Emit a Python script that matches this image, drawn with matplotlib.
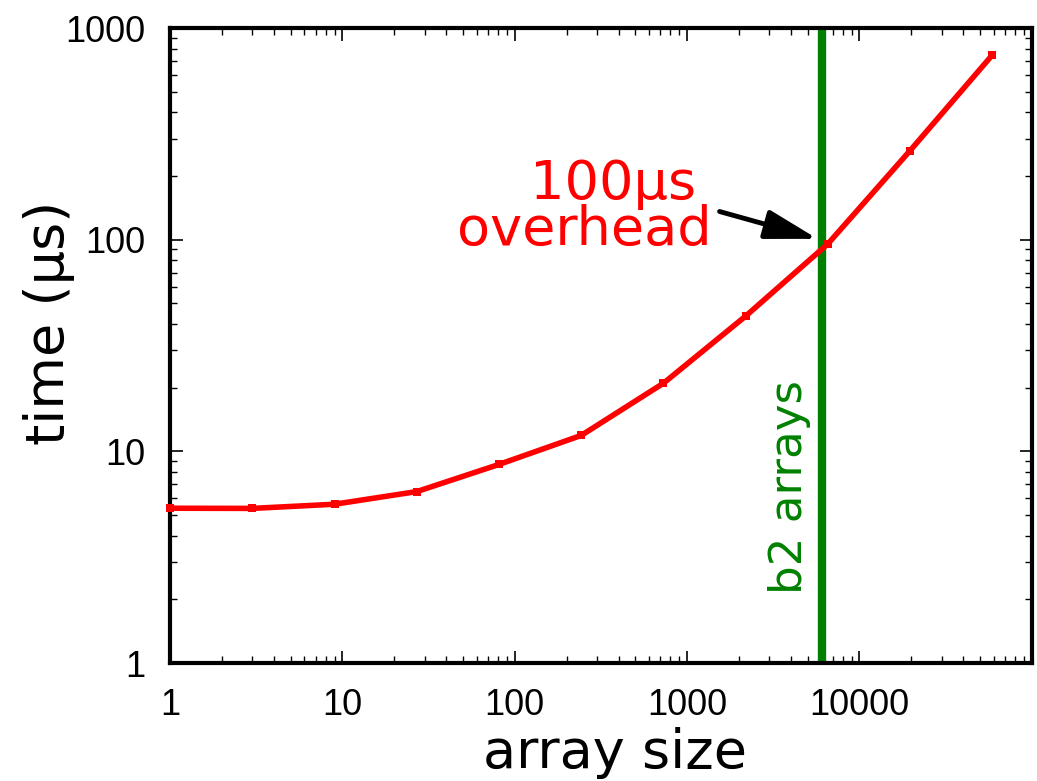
import matplotlib
matplotlib.use('Agg')
import matplotlib.pyplot as plt
from matplotlib.ticker import LogLocator, FixedLocator, FixedFormatter, NullFormatter

# array sizes (powers of 3) and measured time in microseconds
sizes = [1, 3, 9, 27, 81, 243, 729, 2187, 6561, 19683, 59049]
times_us = [5.39, 5.38, 5.63, 6.46, 8.68, 11.9, 21.0, 43.6, 95.7, 264, 747]

b2_size = 6100
x_ticks = [1, 10, 100, 1000, 10000]
x_tick_labels = ['1', '10', '100', '1000', '10000']
y_ticks = [1, 10, 100, 1000]
y_tick_labels = ['1', '10', '100', '1000']

fig = plt.figure(figsize=(10.37, 7.81), dpi=100)
ax = fig.add_axes([0.164, 0.151, 0.831, 0.813])

ax.plot(sizes, times_us, color='red', linewidth=4, marker='s', markersize=6,
        markeredgewidth=0, clip_on=False, zorder=3)

ax.axvline(b2_size, ymin=0.01, ymax=0.99, color='green', linewidth=6, zorder=2)
ax.annotate('b2 arrays', xy=(b2_size, 2.12), xytext=(-8, 0), textcoords='offset points',
            rotation=90, color='green', fontsize=32.5, family='DejaVu Sans',
            ha='right', va='bottom')

# overhead label + arrow
ax.text(1135, 155, '100µs', color='red', fontsize=39, family='DejaVu Sans',
        ha='right', va='baseline')
ax.text(1387, 94.7, 'overhead', color='red', fontsize=39, family='DejaVu Sans',
        ha='right', va='baseline')
ax.annotate('', xy=(5710, 101), xytext=(1543, 136),
            arrowprops=dict(arrowstyle='-|>,head_length=1.6,head_width=0.45',
                            mutation_scale=20, color='black', lw=3.5,
                            shrinkA=0, shrinkB=0))

ax.set_xscale('log')
ax.set_yscale('log')
ax.set_xlim(1, 1e5)
ax.set_ylim(1, 1000)

ax.xaxis.set_major_locator(FixedLocator(x_ticks))
ax.xaxis.set_major_formatter(FixedFormatter(x_tick_labels))
ax.yaxis.set_major_locator(FixedLocator(y_ticks))
ax.yaxis.set_major_formatter(FixedFormatter(y_tick_labels))
ax.xaxis.set_minor_locator(LogLocator(base=10, subs=range(2, 10), numticks=20))
ax.yaxis.set_minor_locator(LogLocator(base=10, subs=range(2, 10), numticks=20))
ax.xaxis.set_minor_formatter(NullFormatter())
ax.yaxis.set_minor_formatter(NullFormatter())

ax.tick_params(which='both', direction='in', top=True, right=True, colors='black')
ax.tick_params(which='major', length=9, width=1.2, labelsize=26, pad=18)
ax.tick_params(which='minor', length=5, width=1.0)
for lbl in ax.get_xticklabels() + ax.get_yticklabels():
    lbl.set_family('Liberation Sans')

for s in ax.spines.values():
    s.set_linewidth(3)

ax.set_xlabel('array size', fontsize=39, family='DejaVu Sans')
ax.set_ylabel('time (µs)', fontsize=39, family='DejaVu Sans')
ax.xaxis.set_label_coords(0.516, -0.1)
ax.yaxis.set_label_coords(-0.110, 0.535)

fig.savefig('out.png', dpi=100)
